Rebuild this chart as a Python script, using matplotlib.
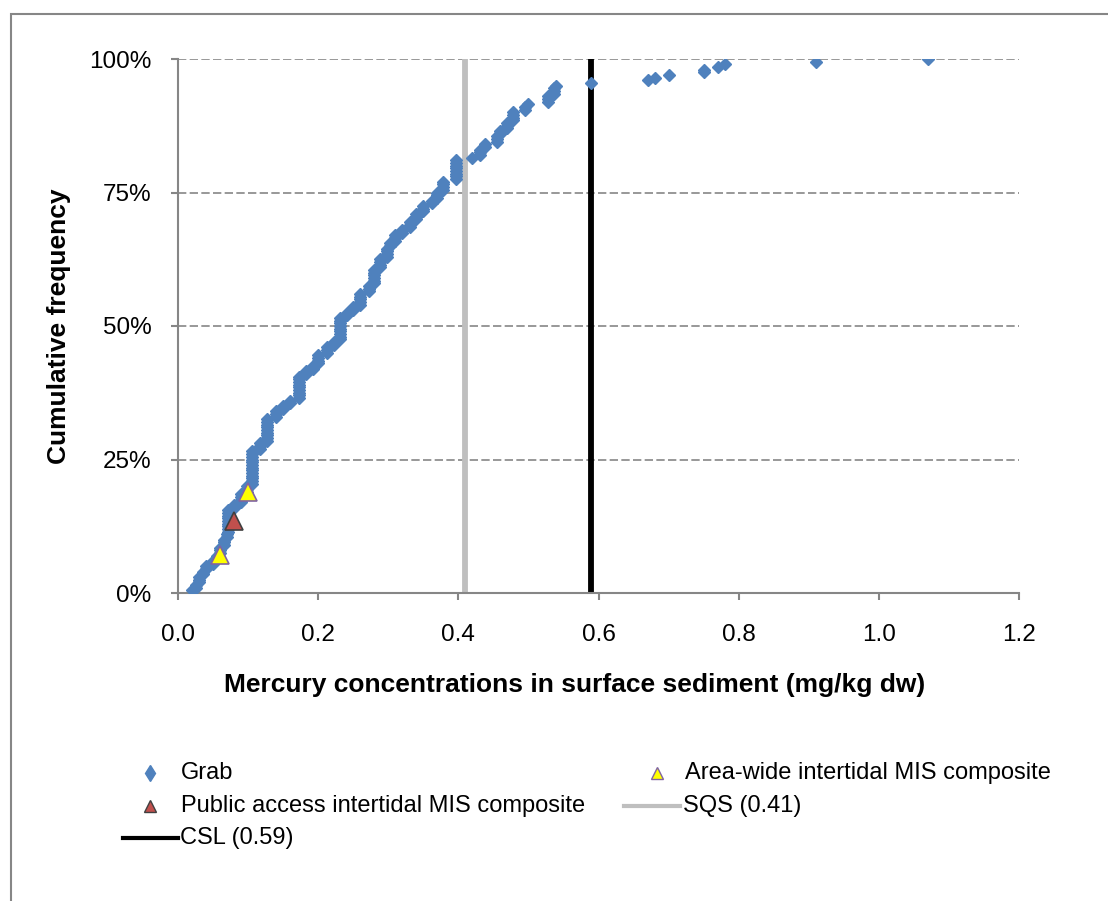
import numpy as np
import matplotlib
matplotlib.use("Agg")
import matplotlib.pyplot as plt
from matplotlib.lines import Line2D
from matplotlib.patches import Rectangle

# ---- data ----
grab_values = [0.020, 0.025, 0.030, 0.035, 0.040, 0.050, 0.055, 0.060, 0.065, 0.070,
               0.072, 0.080, 0.090, 0.098, 0.105, 0.117, 0.127, 0.140, 0.150, 0.160,
               0.172, 0.183, 0.193, 0.200, 0.212, 0.222, 0.231, 0.241, 0.250, 0.260,
               0.272, 0.279, 0.288, 0.298, 0.302, 0.310, 0.319, 0.331, 0.340, 0.350,
               0.362, 0.369, 0.378, 0.397, 0.419, 0.431, 0.438, 0.455, 0.459, 0.469,
               0.478, 0.495, 0.500, 0.528, 0.536, 0.540, 0.590, 0.670, 0.680, 0.700,
               0.750, 0.770, 0.780, 0.910, 1.070]
grab_counts = [1, 2, 3, 2, 2, 2, 2, 3, 3, 2,
               9, 2, 4, 3, 13, 3, 9, 3, 2, 2,
               9, 2, 2, 4, 3, 2, 9, 2, 2, 5,
               3, 6, 4, 4, 2, 3, 2, 3, 3, 3,
               2, 3, 4, 8, 1, 3, 2, 3, 2, 3,
               4, 2, 1, 3, 3, 1, 1, 1, 1, 1,
               2, 1, 1, 1, 1]

public_x = [0.08]
public_y = [0.135]
areawide_x = [0.06, 0.10]
areawide_y = [0.071, 0.190]

sqs_value = 0.41
csl_value = 0.59

x_ticks = [0.0, 0.2, 0.4, 0.6, 0.8, 1.0, 1.2]
x_ticklabels = ["0.0", "0.2", "0.4", "0.6", "0.8", "1.0", "1.2"]
y_ticks = [0.0, 0.25, 0.5, 0.75, 1.0]
y_ticklabels = ["0%", "25%", "50%", "75%", "100%"]

legend_labels = ["Grab", "Area-wide intertidal MIS composite",
                 "Public access intertidal MIS composite", "SQS (0.41)", "CSL (0.59)"]

# cumulative frequency of the grab samples
grab_sorted = np.repeat(grab_values, grab_counts)
n = len(grab_sorted)
grab_cum = np.arange(1, n + 1) / n

# ---- figure ----
plt.rcParams['font.family'] = ['Liberation Sans', 'DejaVu Sans']
W, H = 1108, 901
fig = plt.figure(figsize=(W / 100, H / 100), dpi=100)
fig.patch.set_facecolor("white")

# outer chart frame (cropped on right / bottom)
fig.add_artist(Rectangle((11 / W, -0.1), 1.2, 1 - 14 / H + 0.1, transform=fig.transFigure,
                         fill=False, edgecolor="#868686", linewidth=1.5))

ax = fig.add_axes([178 / W, 1 - 593 / H, (1019 - 178) / W, (593 - 59) / H])
ax.set_xlim(0, 1.2)
ax.set_ylim(0, 1.0)

BLUE = "#4F81BD"
for yv in y_ticks[1:]:
    ax.axhline(yv, color="#868686", linewidth=1.2, dashes=(5, 2), zorder=1)

ax.axvline(sqs_value, color="#BFBFBF", linewidth=4.2, zorder=2)
ax.axvline(csl_value, color="black", linewidth=4.2, zorder=2)

ax.plot(grab_sorted, grab_cum, linestyle="none", marker="D", markersize=6.5,
        color=BLUE, markeredgecolor=BLUE, zorder=3)
ax.plot(public_x, public_y, linestyle="none", marker="^", markersize=13,
        markerfacecolor="#C0504D", markeredgecolor="#404040", markeredgewidth=1.2, zorder=4)
ax.plot(areawide_x, areawide_y, linestyle="none", marker="^", markersize=13,
        markerfacecolor="#FFFF00", markeredgecolor="#8064A2", markeredgewidth=1.2, zorder=4)

for s in ["top", "right"]:
    ax.spines[s].set_visible(False)
for s in ["left", "bottom"]:
    ax.spines[s].set_color("#868686")
    ax.spines[s].set_linewidth(1.5)

ax.set_xticks(x_ticks)
ax.set_xticklabels(x_ticklabels)
ax.set_yticks(y_ticks)
ax.set_yticklabels(y_ticklabels)
ax.tick_params(axis="both", direction="out", length=5, width=1.5, color="#868686",
               labelsize=17.5, labelcolor="black")
ax.tick_params(axis="y", pad=14)
ax.tick_params(axis="x", pad=17)

ax.set_ylabel("Cumulative frequency", fontsize=19, fontweight="bold", labelpad=13)
fig.text(575 / W, 1 - 685 / H, "Mercury concentrations in surface sediment (mg/kg dw)",
         fontsize=19, fontweight="bold", ha="center", va="center")

# ---- legend (manual placement) ----
def fx(px):
    return px / W

def fy(py):
    return 1 - py / H

lfs = 17
fig.add_artist(Line2D([fx(150)], [fy(773)], marker="d", markersize=8, color=BLUE,
                      linestyle="none", transform=fig.transFigure))
fig.text(fx(181), fy(773), legend_labels[0], fontsize=lfs, va="center", ha="left")

fig.add_artist(Line2D([fx(657)], [fy(773)], marker="^", markersize=9,
                      markerfacecolor="#FFFF00", markeredgecolor="#8064A2",
                      linestyle="none", transform=fig.transFigure))
fig.text(fx(685), fy(773), legend_labels[1], fontsize=lfs, va="center", ha="left")

fig.add_artist(Line2D([fx(150)], [fy(806)], marker="^", markersize=9,
                      markerfacecolor="#C0504D", markeredgecolor="#404040",
                      linestyle="none", transform=fig.transFigure))
fig.text(fx(181), fy(806), legend_labels[2], fontsize=lfs, va="center", ha="left")

fig.add_artist(Line2D([fx(624), fx(680)], [fy(806), fy(806)], color="#BFBFBF",
                      linewidth=3, transform=fig.transFigure))
fig.text(fx(683), fy(806), legend_labels[3], fontsize=lfs, va="center", ha="left")

fig.add_artist(Line2D([fx(123), fx(178)], [fy(838), fy(838)], color="black",
                      linewidth=3, transform=fig.transFigure))
fig.text(fx(180), fy(838), legend_labels[4], fontsize=lfs, va="center", ha="left")

fig.savefig("out.png", dpi=100, facecolor="white")
